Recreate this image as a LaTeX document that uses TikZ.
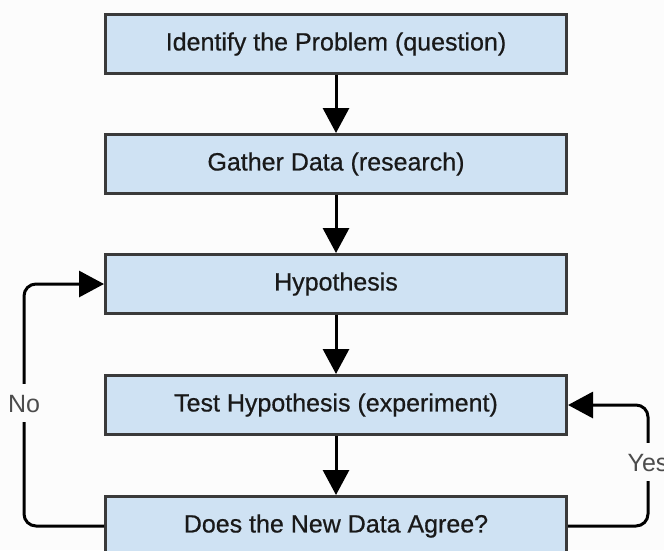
\documentclass[tikz,border=0pt]{standalone}
\usepackage{fontspec}
\setmainfont{Liberation Sans}
\newfontfamily\boxfont[FakeBold=0.6]{Liberation Sans}
\usetikzlibrary{arrows.meta}
\definecolor{boxfill}{RGB}{207,226,243}
\definecolor{boxline}{RGB}{58,58,58}
\definecolor{bg}{RGB}{252,252,252}
\begin{document}
\begin{tikzpicture}[x=1pt,y=-1pt,
  stepbox/.style={draw=boxline, line width=3pt, fill=boxfill, minimum width=461pt, minimum height=59pt, inner sep=0pt, font=\boxfont\fontsize{25}{30}\selectfont, text=black!90},
  conn/.style={line width=3pt, draw=black},
  arr/.style={conn, -{Triangle[length=25pt,width=26pt]}},
  lbl/.style={fill=bg, inner xsep=2pt, inner ysep=10pt, text height=18pt, text depth=0pt, font=\fontsize{25}{30}\selectfont, text=black!70}]
\useasboundingbox (0,0) rectangle (664,550);
\clip (0,0) rectangle (664,550);
\fill[bg] (0,0) rectangle (664,550);
\node[stepbox] (n1) at (336,44) {Identify the Problem (question)};
\node[stepbox] (n2) at (336,164) {Gather Data (research)};
\node[stepbox] (n3) at (336,284) {Hypothesis};
\node[stepbox] (n4) at (336,405) {Test Hypothesis (experiment)};
\node[stepbox] (n5) at (336,526) {Does the New Data Agree?};
\draw[arr] (n1.south) -- (n2.north);
\draw[arr] (n2.south) -- (n3.north);
\draw[arr] (n3.south) -- (n4.north);
\draw[arr] (n4.south) -- (n5.north);
\draw[arr, rounded corners=12pt] (n5.west) -- ++(-80,0) coordinate (cl) |- (n3.west);
\draw[arr, rounded corners=12pt] (n5.east) -- ++(80,0) coordinate (cr) |- (n4.east);
\node[lbl] (no) at (cl |- 0,403) {No};
\node[lbl] (yes) at (cr |- 0,462) {Yes};
\end{tikzpicture}
\end{document}
